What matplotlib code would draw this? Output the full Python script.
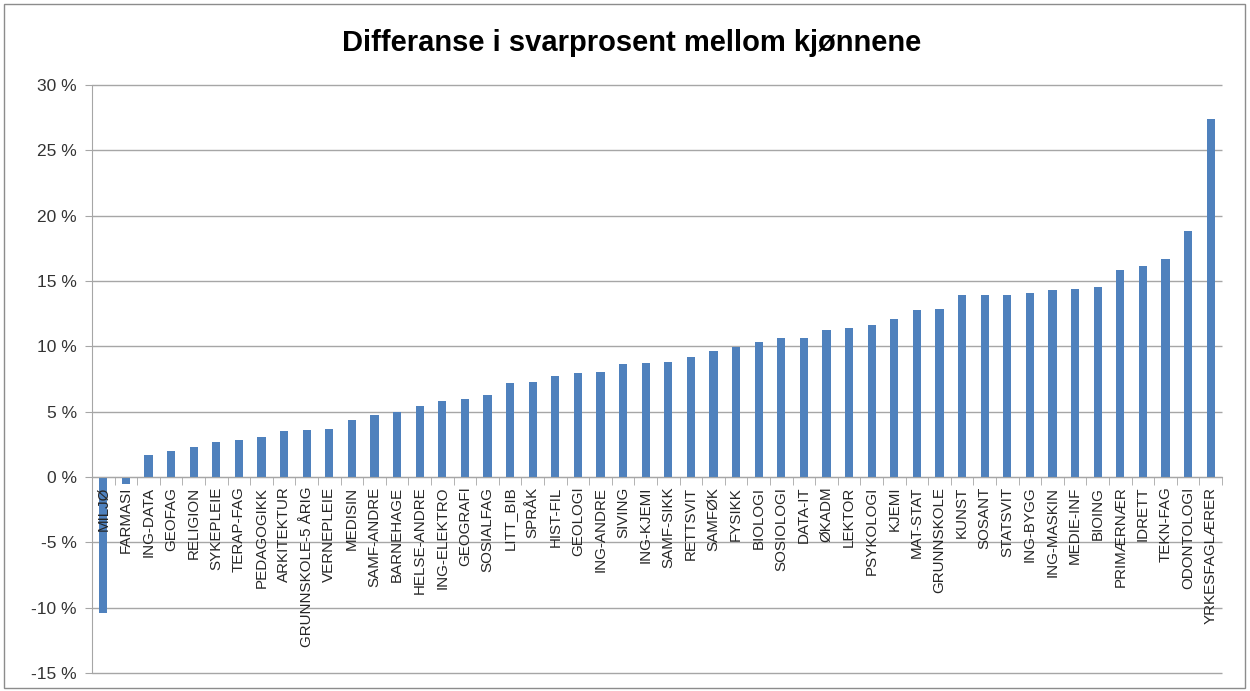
import numpy as np
import matplotlib
matplotlib.use('Agg')
import matplotlib.pyplot as plt
from matplotlib.ticker import FixedLocator, FuncFormatter
from matplotlib.patches import Rectangle

plt.rcParams['font.family'] = ['Liberation Sans', 'DejaVu Sans']

# studieprogram og differanse i svarprosent (prosentpoeng)
programs = ['MILJØ', 'FARMASI', 'ING-DATA', 'GEOFAG', 'RELIGION', 'SYKEPLEIE',
            'TERAP-FAG', 'PEDAGOGIKK', 'ARKITEKTUR', 'GRUNNSKOLE-5 ÅRIG',
            'VERNEPLEIE', 'MEDISIN', 'SAMF-ANDRE', 'BARNEHAGE', 'HELSE-ANDRE',
            'ING-ELEKTRO', 'GEOGRAFI', 'SOSIALFAG', 'LITT_BIB', 'SPRÅK',
            'HIST-FIL', 'GEOLOGI', 'ING-ANDRE', 'SIVING', 'ING-KJEMI',
            'SAMF-SIKK', 'RETTSVIT', 'SAMFØK', 'FYSIKK', 'BIOLOGI', 'SOSIOLOGI',
            'DATA-IT', 'ØKADM', 'LEKTOR', 'PSYKOLOGI', 'KJEMI', 'MAT-STAT',
            'GRUNNSKOLE', 'KUNST', 'SOSANT', 'STATSVIT', 'ING-BYGG',
            'ING-MASKIN', 'MEDIE-INF', 'BIOING', 'PRIMÆRNÆR', 'IDRETT',
            'TEKN-FAG', 'ODONTOLOGI', 'YRKESFAGLÆRER']
diff = [-10.4, -0.5, 1.7, 2.0, 2.3, 2.7, 2.8, 3.1, 3.5, 3.6,
        3.65, 4.4, 4.75, 4.95, 5.45, 5.85, 6.0, 6.3, 7.2, 7.3,
        7.7, 7.95, 8.05, 8.65, 8.75, 8.8, 9.15, 9.65, 9.95, 10.3, 10.65,
        10.65, 11.25, 11.4, 11.6, 12.1, 12.8, 12.85, 13.9, 13.95, 13.95, 14.05,
        14.3, 14.4, 14.55, 15.85, 16.15, 16.65, 18.85, 27.4]
yticks = [-15, -10, -5, 0, 5, 10, 15, 20, 25, 30]

bar_color = '#4F81BD'
grid_color = '#a6a6a6'

fig = plt.figure(figsize=(12.5, 6.91), dpi=100)
fig.patches.append(Rectangle((0.003, 0.004), 0.993, 0.99, transform=fig.transFigure,
                             fill=False, edgecolor='#8c8c8c', linewidth=1.0))
ax = fig.add_axes([0.0736, 0.026, 0.904, 0.851])

x = np.arange(len(programs))
# gridlines under the bars, category labels above them
ax.hlines(yticks, -0.5, len(programs) - 0.5, color=grid_color, linewidth=1.0, zorder=0,
          clip_on=False)
ax.bar(x, diff, width=0.37, color=bar_color, zorder=1)

ax.set_xlim(-0.5, len(programs) - 0.5)
ax.set_ylim(-15, 30)
ax.yaxis.set_major_locator(FixedLocator(yticks))
ax.yaxis.set_major_formatter(FuncFormatter(lambda v, p: '%d %%' % v))

for s in ['top', 'right']:
    ax.spines[s].set_visible(False)
ax.spines['left'].set_color(grid_color)
ax.spines['bottom'].set_position(('data', 0))
ax.spines['bottom'].set_color(grid_color)

ax.set_xticks(x)
ax.set_xticklabels(programs, rotation=90, fontsize=10.9, color='#262626')
ax.tick_params(axis='x', which='major', length=0, pad=7)
ax.set_xticks(np.arange(-0.5, len(programs), 1.0), minor=True)
ax.tick_params(axis='x', which='minor', length=6, direction='out', color=grid_color)
ax.tick_params(axis='y', length=5, direction='out', color=grid_color, labelsize=12.5,
               labelcolor='#333333', pad=6)

fig.text(0.505, 0.938, 'Differanse i svarprosent mellom kjønnene', ha='center', va='center',
         fontsize=21, fontweight='bold', color='black')

fig.savefig('out.png', dpi=100)
